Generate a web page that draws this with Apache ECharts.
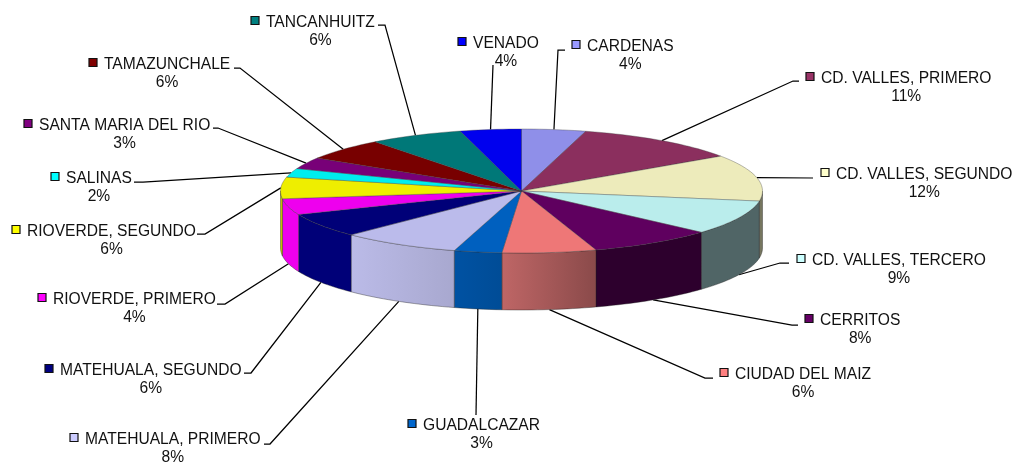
<!DOCTYPE html>
<html><head><meta charset="utf-8">
<style>html,body{margin:0;padding:0;background:#fff}#c{width:1013px;height:462px}</style>
<script src="https://cdn.jsdelivr.net/npm/echarts@6/dist/echarts.min.js"></script>
</head><body><div id="c"></div>
<script>
const categories = ['CARDENAS','CD. VALLES, PRIMERO','CD. VALLES, SEGUNDO','CD. VALLES, TERCERO','CERRITOS','CIUDAD DEL MAIZ','GUADALCAZAR','MATEHUALA, PRIMERO','MATEHUALA, SEGUNDO','RIOVERDE, PRIMERO','RIOVERDE, SEGUNDO','SALINAS','SANTA MARIA DEL RIO','TAMAZUNCHALE','TANCANHUITZ','VENADO'];
const values = [4.3,11.2,12.1,9.0,8.4,6.3,3.2,8.0,6.3,4.2,5.6,2.3,3.0,5.7,6.3,4.1];
const keyColors = ['#9999FF','#993366','#FFFFCC','#CCFFFF','#660066','#FF8080','#0066CC','#CCCCFF','#000080','#FF00FF','#FFFF00','#00FFFF','#800080','#800000','#008080','#0000FF'];
const topColors = ['#8F8FE9','#8B2F5E','#EDEBBB','#BAEDEC','#5F005F','#EE7777','#0060BF','#BBBBEB','#000078','#EE00EE','#EEEE00','#00EEEE','#780078','#780000','#007878','#0000EE'];
const sideColors = [null,null,'#76765F','#506566','#2D002D',['#BF6666','#8A4A4A'],['#0052A3','#004C96'],['#BBBBE8','#A8A8CF'],'#000078','#EE00EE','#C8C800',null,null,null,null,null];
// label layout: [text left, name line centre y]
const labelPos = [[587,47],[821,79],[836,175],[812,261],[820,321],[735,375],[423,426],[85,440],[60,371],[53,300],[27,232],[66,179],[39,126],[104,65],[266,23],[473,44]];
// leader line bends: [bend x, bend y, end x, end y]
const leaderPos = [[558,50,565,50],[793,81,799,81],[813,178,813,178],[780,263,789,263],[792,325,798,325],[705,378,713,378],[476,415,476,415],[270,444,264,444],[251,373,244,373],[225,304,217,304],[205,234,197,234],[143,182,134,182],[218,128,213,128],[240,68,234,68],[385,25,378,25],[493,65,493,65]];
const pie = {cx:521.5, cy:191, rx:241, ry:62, depth:57};
const FONT = '15.6px "Liberation Sans", Arial, sans-serif';

const total = values.reduce((a,b)=>a+b,0);
const starts = []; values.reduce((a,v,i)=>{starts[i]=a/total*360;return a+v;},0);
const rimPt = (deg,dy=0)=>{const r=deg*Math.PI/180;return [pie.cx+pie.rx*Math.sin(r),pie.cy-pie.ry*Math.cos(r)+dy];};
const arc = (a,b,dy=0)=>{const n=Math.max(2,Math.ceil((b-a)/1.5)),p=[];for(let k=0;k<=n;k++)p.push(rimPt(a+(b-a)*k/n,dy));return p;};
const span = i=>[starts[i],starts[i]+values[i]/total*360];
const mctx = document.createElement('canvas').getContext('2d'); mctx.font = FONT;

function sideItem(params){
  const i=params.dataIndex; const [a,b]=span(i);
  const s=Math.max(a,90), e=Math.min(b,270);
  if(e<=s||!sideColors[i]) return {type:'group',children:[]};
  const top=arc(s,e), bot=arc(s,e,pie.depth).reverse();
  const c=sideColors[i];
  const fill=Array.isArray(c)?new echarts.graphic.LinearGradient(0,0,1,0,[{offset:0,color:c[0]},{offset:1,color:c[1]}]):c;
  return {type:'polygon',shape:{points:top.concat(bot)},style:{fill:fill,stroke:'rgba(30,30,30,0.55)',lineWidth:0.7}};
}
function topItem(params){
  const i=params.dataIndex; const [a,b]=span(i);
  return {type:'polygon',shape:{points:[[pie.cx,pie.cy]].concat(arc(a,b))},style:{fill:topColors[i],stroke:'rgba(60,60,60,0.5)',lineWidth:0.7}};
}
function labelItem(params){
  const i=params.dataIndex; const [a,b]=span(i); const mid=(a+b)/2;
  const front=mid>90&&mid<270;
  const start=rimPt(mid,front?pie.depth:0);
  const L=leaderPos[i]; const [tx,ty]=labelPos[i];
  const w=mctx.measureText(categories[i]).width;
  return {type:'group',children:[
    {type:'polyline',shape:{points:[start,[L[0],L[1]],[L[2],L[3]]]},style:{fill:'none',stroke:'#000',lineWidth:1.25}},
    {type:'rect',shape:{x:tx-15,y:ty-6.5,width:8,height:8},style:{fill:keyColors[i],stroke:'#111',lineWidth:1.2}},
    {type:'text',style:{text:categories[i],x:tx,y:ty,font:FONT,fill:'#111',align:'left',verticalAlign:'middle'}},
    {type:'text',style:{text:Math.round(values[i]/total*100)+'%',x:tx+w/2,y:ty+17.5,font:FONT,fill:'#111',align:'center',verticalAlign:'middle'}}
  ]};
}
const rows = values.map((v,i)=>({name:categories[i],value:v}));
const chart = echarts.init(document.getElementById('c'),null,{renderer:'canvas'});
chart.setOption({
  animation:false,
  backgroundColor:'#fff',
  series:[
    {type:'custom',coordinateSystem:'none',silent:true,z:1,data:rows,renderItem:labelItem},
    {type:'custom',coordinateSystem:'none',silent:true,z:2,data:rows,renderItem:sideItem},
    {type:'custom',coordinateSystem:'none',silent:true,z:3,data:rows,renderItem:topItem}
  ]
});
</script></body></html>
